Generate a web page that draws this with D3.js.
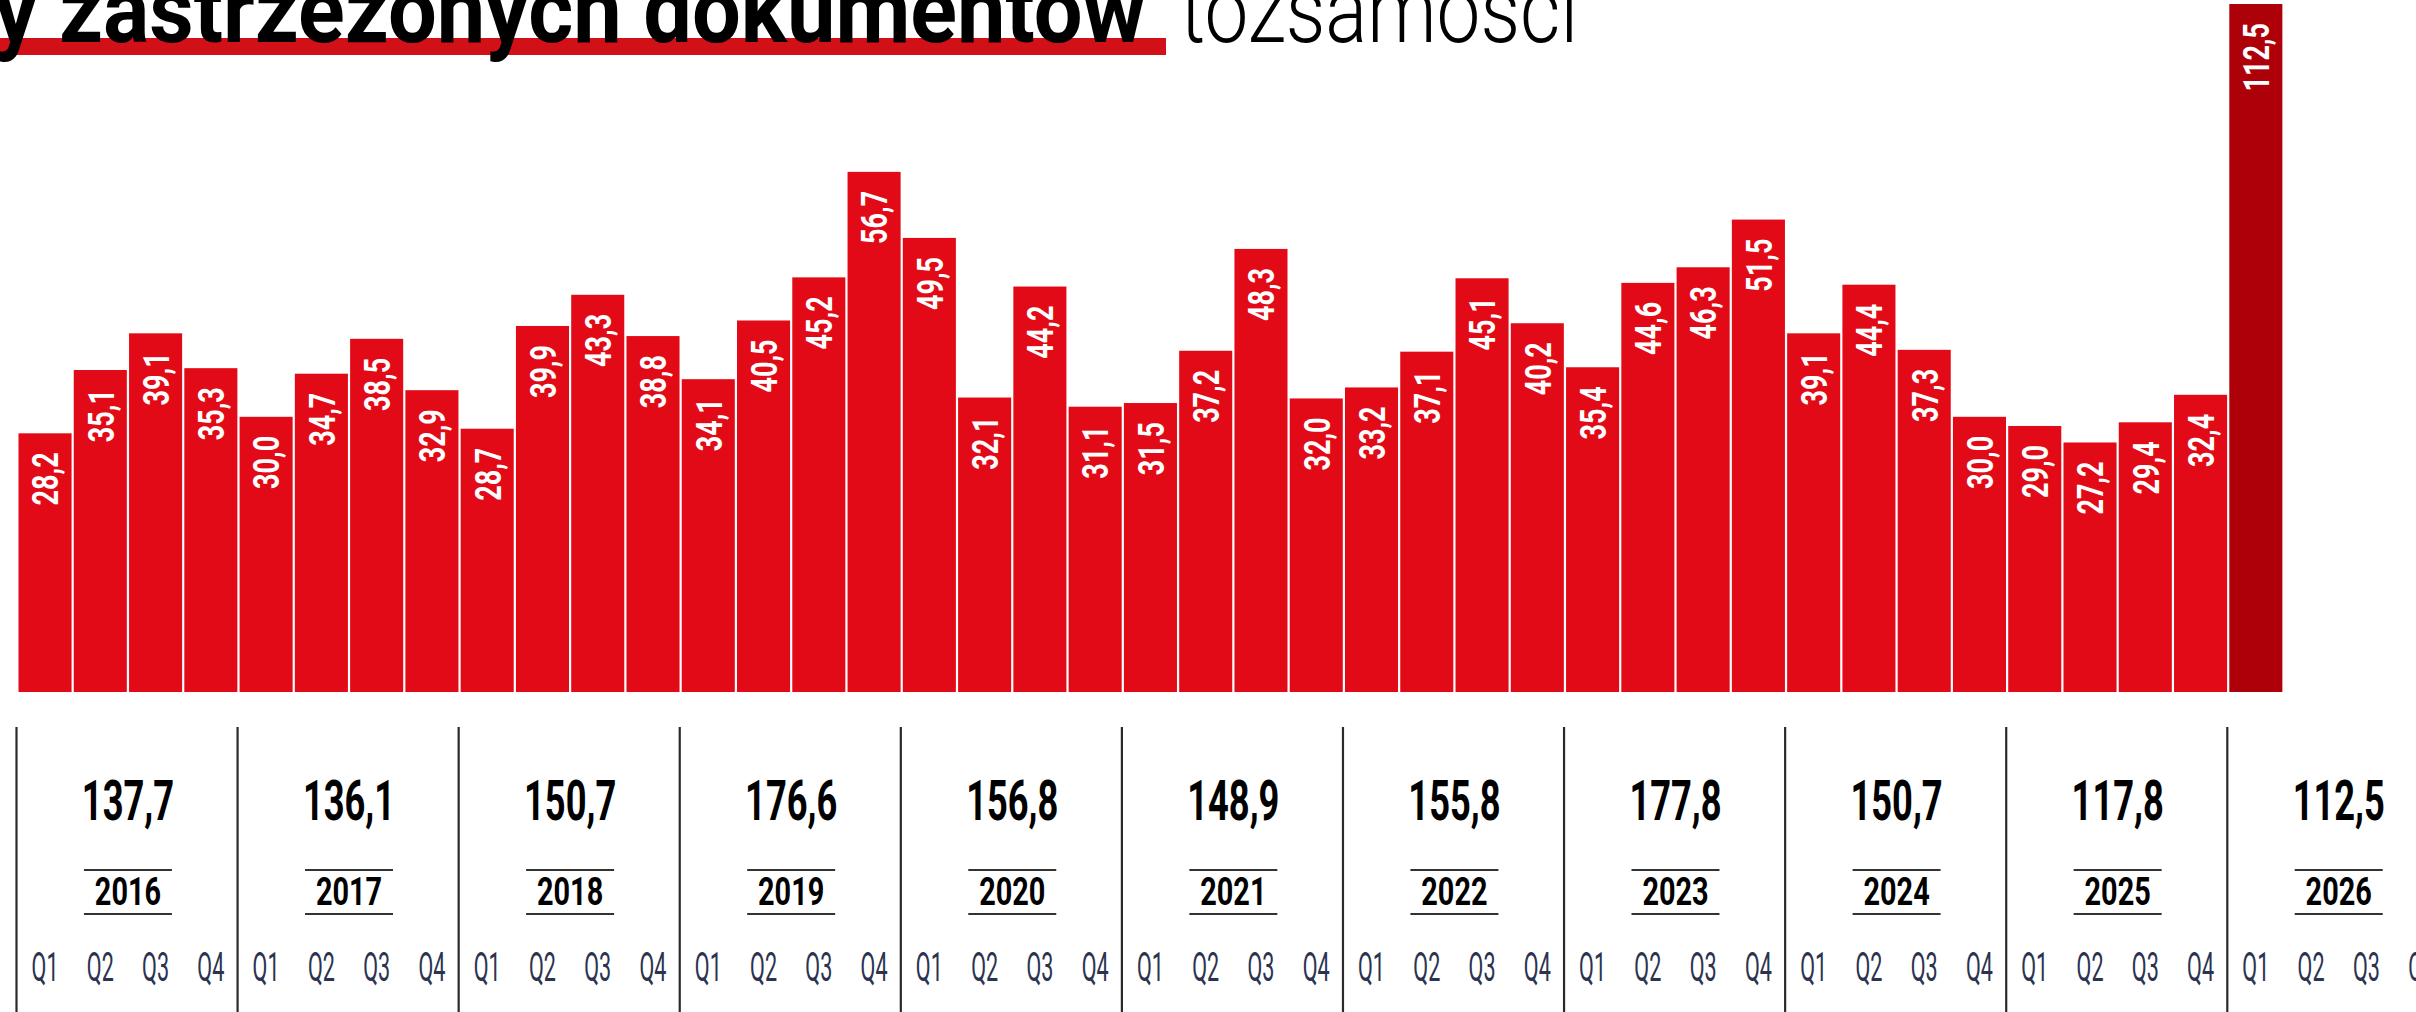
<!DOCTYPE html>
<html>
<head>
<meta charset="utf-8">
<script src="https://cdn.jsdelivr.net/npm/d3@7"></script>
<style>
  html, body { margin: 0; padding: 0; background: #fff; overflow: hidden; }
  svg { display: block; }
</style>
</head>
<body>
<div id="chart"></div>
<script>
const WIDTH = 2416;
const HEIGHT = 1012;
const BASELINE = 692;
const FONT = 'Roboto, "DejaVu Sans Condensed", sans-serif';

// data
const years = ['2016', '2017', '2018', '2019', '2020', '2021', '2022', '2023', '2024', '2025', '2026'];
const quarters = ['Q1', 'Q2', 'Q3', 'Q4'];
const quarterValues = [
  28.2, 35.1, 39.1, 35.3,
  30.0, 34.7, 38.5, 32.9,
  28.7, 39.9, 43.3, 38.8,
  34.1, 40.5, 45.2, 56.7,
  49.5, 32.1, 44.2, 31.1,
  31.5, 37.2, 48.3, 32.0,
  33.2, 37.1, 45.1, 40.2,
  35.4, 44.6, 46.3, 51.5,
  39.1, 44.4, 37.3, 30.0,
  29.0, 27.2, 29.4, 32.4,
  112.5
];
const yearTotals = [137.7, 136.1, 150.7, 176.6, 156.8, 148.9, 155.8, 177.8, 150.7, 117.8, 112.5];
const titleBold = 'y zastrzeżonych dokumentów';
const titleLight = 'tożsamości';

const pl = d3.formatLocale({ decimal: ',', thousands: ' ', grouping: [3], currency: ['', ' zł'] });
const fmt = pl.format('.1f');

const slots = years.flatMap((yr) => quarters.map((q) => `${yr}-${q}`));
const bars = quarterValues.map((v, i) => ({ key: slots[i], value: v, last: i === quarterValues.length - 1 }));

const svg = d3.select('#chart')
  .append('svg')
  .attr('width', WIDTH)
  .attr('height', HEIGHT);

const step = 55.27;
const x = d3.scaleBand()
  .domain(slots)
  .range([18.5, 18.5 + step * (slots.length - 0.04)])
  .paddingInner(0.04);

// top bar runs past the frame, so clamp it
const y = d3.scaleLinear()
  .domain([0, 75])
  .range([BASELINE, 4])
  .clamp(true);

// title, cut by the top edge like the original
svg.append('rect')
  .attr('x', 0)
  .attr('y', 38)
  .attr('width', 1166)
  .attr('height', 17)
  .attr('fill', '#d11018');

svg.append('text')
  .attr('x', -6)
  .attr('y', 42)
  .attr('font-family', FONT)
  .attr('font-weight', 'bold')
  .attr('font-size', 92)
  .attr('textLength', 1152)
  .attr('lengthAdjust', 'spacingAndGlyphs')
  .attr('fill', '#000')
  .text(titleBold);

svg.append('text')
  .attr('x', 1180)
  .attr('y', 42)
  .attr('font-family', FONT)
  .attr('font-weight', 300)
  .attr('font-size', 92)
  .attr('textLength', 398)
  .attr('lengthAdjust', 'spacingAndGlyphs')
  .attr('fill', '#000')
  .text(titleLight);

// bars
svg.append('g')
  .selectAll('rect')
  .data(bars)
  .join('rect')
  .attr('x', (d) => x(d.key))
  .attr('y', (d) => y(d.value))
  .attr('width', x.bandwidth())
  .attr('height', (d) => BASELINE - y(d.value))
  .attr('fill', (d) => d.last ? '#ad0009' : '#e20a16');

svg.append('g')
  .selectAll('text')
  .data(bars)
  .join('text')
  .attr('transform', (d) =>
    `translate(${x(d.key) + x.bandwidth() / 2},${y(d.value) + 19}) rotate(-90) scale(0.73,1)`)
  .attr('text-anchor', 'end')
  .attr('dy', '0.36em')
  .attr('font-family', FONT)
  .attr('font-weight', 'bold')
  .attr('font-size', 37)
  .attr('fill', '#fff')
  .text((d) => fmt(d.value));

// year blocks below
const yearData = years.map((yr, i) => {
  const x0 = x(`${yr}-Q1`);
  const x1 = x(`${yr}-Q4`) + x.bandwidth();
  return { year: yr, total: yearTotals[i], x0, cx: (x0 + x1) / 2 };
});

const block = svg.append('g')
  .selectAll('g')
  .data(yearData)
  .join('g');

block.append('line')
  .attr('x1', (d) => d.x0 - 2)
  .attr('x2', (d) => d.x0 - 2)
  .attr('y1', 727)
  .attr('y2', HEIGHT)
  .attr('stroke', '#2a2a2a')
  .attr('stroke-width', 2.2);

block.append('text')
  .attr('transform', (d) => `translate(${d.cx},820) scale(0.66,1)`)
  .attr('text-anchor', 'middle')
  .attr('font-family', FONT)
  .attr('font-weight', 'bold')
  .attr('font-size', 55)
  .attr('fill', '#000')
  .text((d) => fmt(d.total));

block.selectAll('line.rule')
  .data((d) => [870, 914].map((ly) => ({ cx: d.cx, ly })))
  .join('line')
  .attr('class', 'rule')
  .attr('x1', (d) => d.cx - 44)
  .attr('x2', (d) => d.cx + 44)
  .attr('y1', (d) => d.ly)
  .attr('y2', (d) => d.ly)
  .attr('stroke', '#333')
  .attr('stroke-width', 2);

block.append('text')
  .attr('transform', (d) => `translate(${d.cx},905) scale(0.76,1)`)
  .attr('text-anchor', 'middle')
  .attr('font-family', FONT)
  .attr('font-weight', 'bold')
  .attr('font-size', 38)
  .attr('fill', '#000')
  .text((d) => d.year);

// quarter ticks
svg.append('g')
  .selectAll('text')
  .data(slots)
  .join('text')
  .attr('transform', (d) => `translate(${x(d) + x.bandwidth() / 2},981) scale(0.54,1)`)
  .attr('text-anchor', 'middle')
  .attr('font-family', FONT)
  .attr('font-weight', 'normal')
  .attr('font-size', 40)
  .attr('fill', '#2b3350')
  .text((d) => d.split('-')[1]);
</script>
</body>
</html>
